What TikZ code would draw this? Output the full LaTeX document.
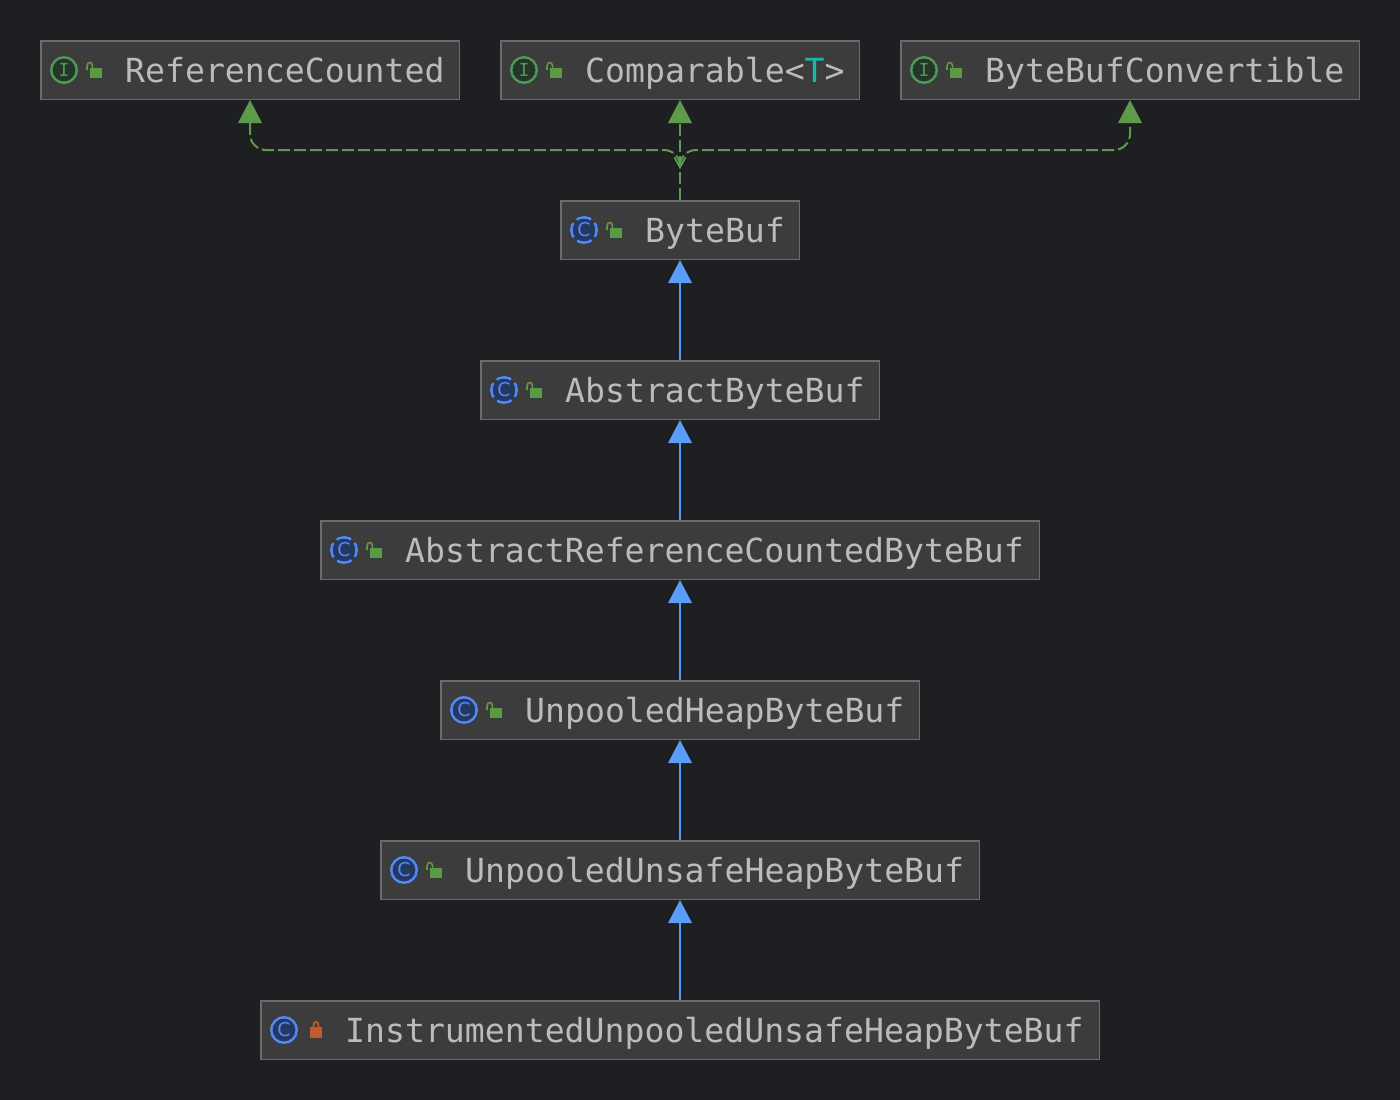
\documentclass[tikz,border=0pt]{standalone}
\usepackage{fontspec}
\usetikzlibrary{arrows.meta}
\usetikzlibrary{calc}
\setmonofont{DejaVu Sans Mono}
\setsansfont{DejaVu Sans}

\definecolor{canvasbg}{HTML}{1E1F22}
\definecolor{boxfill}{HTML}{3C3C3C}
\definecolor{boxedge}{HTML}{6B6B6B}
\definecolor{labeltext}{HTML}{BBBBBB}
\definecolor{typeparam}{HTML}{16BAAC}
\definecolor{implgreen}{HTML}{5E9A4B}
\definecolor{extendblue}{HTML}{589DF6}
\definecolor{classring}{HTML}{548AF7}
\definecolor{ifacering}{HTML}{4E9A55}
\definecolor{ifacefill}{HTML}{25352A}
\definecolor{classfill}{HTML}{25385F}
\definecolor{lockgreen}{HTML}{5A9A42}
\definecolor{lockred}{HTML}{C25A2A}

\tikzset{
  classbox/.style={draw=boxedge, fill=boxfill, line width=1.5pt, rectangle, anchor=north west,
    minimum height=58.5pt, inner sep=0pt},
  boxlabel/.style={anchor=base west, inner sep=0pt, text=labeltext,
    font=\ttfamily\fontsize{33.15pt}{40pt}\selectfont},
  iconbase/.style={circle, minimum size=25.5pt, inner sep=0pt, line width=2.4pt},
  ifaceicon/.style={iconbase, draw=ifacering, fill=ifacefill, text=ifacering,
    font=\ttfamily\fontsize{18pt}{18pt}\selectfont},
  classicon/.style={iconbase, draw=classring, fill=classfill, text=classring,
    font=\sffamily\fontsize{19pt}{19pt}\selectfont},
  abstracticon/.style={classicon, dash pattern=on 15.3pt off 4.73pt, dash phase=7.65pt},
  extendsline/.style={draw=extendblue, line width=2pt, -{Triangle[length=23pt,width=24pt,line width=0pt]}},
  implline/.style={draw=implgreen, line width=2pt, dash pattern=on 12pt off 4pt,
    -{Triangle[length=23pt,width=24pt,line width=0pt]}},
  publock/.pic={
    \fill[lockgreen] (50,-2) rectangle (62,8);
    \draw[lockgreen, line width=1.6pt] (47,0) -- (47,-3.5) .. controls (47,-9) and (52.6,-9) .. (52.6,-3.5) -- (52.6,-2);
  },
  privlock/.pic={
    \fill[lockred] (50,-3) rectangle (62,8);
    \draw[lockred, line width=1.8pt] (53.4,-3) -- (53.4,-3.5) .. controls (53.4,-9.8) and (58.6,-9.8) .. (58.6,-3.5) -- (58.6,-3);
  }
}

\begin{document}
\begin{tikzpicture}[x=1pt,y=-1pt]
  \fill[canvasbg] (0,0) rectangle (1400,1100);

  % Boxes with their icon, lock and label
  \foreach \name/\bx/\by/\bw/\icon/\glyph/\lockpic/\label in {
    refcounted/40/40/420/ifaceicon/I/publock/{ReferenceCounted},
    comparable/500/40/360/ifaceicon/I/publock/{Comparable<\textcolor{typeparam}{T}>},
    convertible/900/40/460/ifaceicon/I/publock/{ByteBufConvertible},
    bytebuf/560/200/240/abstracticon/C/publock/{ByteBuf},
    abstractbuf/480/360/400/abstracticon/C/publock/{AbstractByteBuf},
    countedbuf/320/520/720/abstracticon/C/publock/{AbstractReferenceCountedByteBuf},
    heapbuf/440/680/480/classicon/C/publock/{UnpooledHeapByteBuf},
    unsafebuf/380/840/600/classicon/C/publock/{UnpooledUnsafeHeapByteBuf},
    instrumented/260/1000/840/classicon/C/privlock/{InstrumentedUnpooledUnsafeHeapByteBuf}}
  {
    \node[classbox, minimum width=\bw pt - 1.5pt] (\name) at (\bx,\by) {};
    \node[\icon] (\name-icon) at ($(\name.west)+(24,0)$) {\glyph};
    \path (\name.west) pic {\lockpic};
    \node[boxlabel] (\name-label) at ($(\name.west)+(85,12)$) {\label};
  }

  % Solid arrows
  \foreach \src/\dst in {abstractbuf/bytebuf, countedbuf/abstractbuf, heapbuf/countedbuf,
    unsafebuf/heapbuf, instrumented/unsafebuf}
    \draw[extendsline] (\src.north) -- (\dst.south);

  % Dashed arrows
  \coordinate (merge) at (680,169);
  \coordinate (bus) at (680,150);
  \draw[implline] (bytebuf.north) -- (comparable.south);
  \draw[implline, rounded corners=16pt, {Straight Barb[length=10pt,width=11pt,line width=1.5pt]}-{Triangle[length=23pt,width=24pt,line width=0pt]}]
    (merge) -- (bus) -- (bus -| refcounted.south) -- (refcounted.south);
  \draw[implline, rounded corners=16pt, {Straight Barb[length=10pt,width=11pt,line width=1.5pt]}-{Triangle[length=23pt,width=24pt,line width=0pt]}]
    (merge) -- (bus) -- (bus -| convertible.south) -- (convertible.south);
\end{tikzpicture}
\end{document}
